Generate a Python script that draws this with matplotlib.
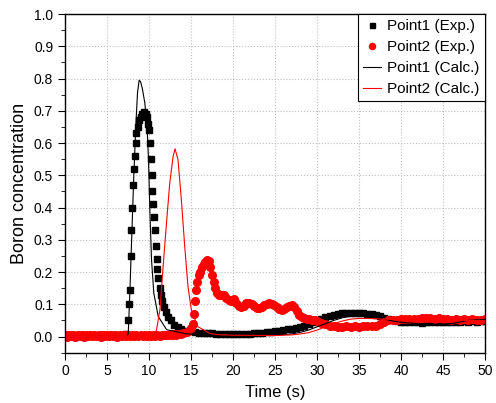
import matplotlib.pyplot as plt
from matplotlib.ticker import MultipleLocator

plt.rcParams['font.family'] = ['Liberation Sans', 'DejaVu Sans']

# Point1 measured (black squares)
p1_exp_t = [0, 0.5, 1, 1.5, 2, 2.5, 3, 3.5, 4, 4.5, 5, 5.5, 6, 6.5, 7, 7.3,
            7.5, 7.6, 7.7, 7.8, 7.85, 7.95, 8.05, 8.2, 8.3, 8.4, 8.5, 8.65, 8.8,
            9.0, 9.2, 9.4, 9.6, 9.8, 9.9, 10.0, 10.1, 10.2, 10.3, 10.4, 10.5,
            10.6, 10.7, 10.8, 10.9, 11.0, 11.1, 11.25, 11.4, 11.6, 11.8, 12.0,
            12.3, 12.6, 13.0, 13.4, 13.8, 14.3, 14.8, 15.5, 16, 16.5, 17, 17.5,
            18, 18.5, 19, 19.5, 20, 20.5, 21, 21.5, 22, 22.5, 23, 23.5, 24, 24.5,
            25, 25.5, 26, 26.5, 27, 27.5, 28, 28.5, 29, 29.5, 30, 30.5, 31, 31.5,
            32, 32.5, 33, 33.5, 34, 34.5, 35, 35.5, 36, 36.5, 37, 37.5, 38, 38.5,
            39, 39.5, 40, 40.5, 41, 41.5, 42, 42.5, 43, 43.5, 44, 44.5, 45, 45.5,
            46, 46.5, 47, 47.5, 48, 48.5, 49, 49.5, 50]
p1_exp_c = [0.005, 0.006, 0.005, 0.006, 0.005, 0.006, 0.005, 0.006, 0.005, 0.006,
            0.005, 0.006, 0.005, 0.006, 0.006, 0.008,
            0.05, 0.10, 0.145, 0.25, 0.33, 0.40, 0.47, 0.52, 0.56, 0.60, 0.63,
            0.65, 0.67, 0.68, 0.69, 0.695, 0.69, 0.68, 0.66, 0.64, 0.60, 0.55,
            0.50, 0.45, 0.41, 0.37, 0.33, 0.28, 0.24, 0.21, 0.18, 0.15, 0.13,
            0.11, 0.09, 0.075, 0.06, 0.05, 0.035, 0.028, 0.022, 0.018, 0.016,
            0.013, 0.012, 0.011, 0.01, 0.01, 0.009, 0.009, 0.008, 0.008, 0.008,
            0.008, 0.008, 0.009, 0.009, 0.01, 0.01, 0.012, 0.013, 0.015, 0.016,
            0.018, 0.02, 0.022, 0.024, 0.027, 0.03, 0.034, 0.04, 0.045, 0.05,
            0.055, 0.06, 0.065, 0.068, 0.071, 0.072, 0.073, 0.072, 0.073, 0.072,
            0.072, 0.071, 0.07, 0.066, 0.063, 0.058, 0.054, 0.051, 0.048, 0.046,
            0.045, 0.045, 0.044, 0.044, 0.043, 0.044, 0.045, 0.044, 0.045, 0.046,
            0.045, 0.046, 0.045, 0.046, 0.047, 0.046, 0.047, 0.046, 0.047, 0.047]

# Point2 measured (red circles)
p2_exp_t = [0, 0.25, 0.5, 0.75, 1, 1.25, 1.5, 1.75, 2, 2.25, 2.5, 2.75, 3, 3.25,
            3.5, 3.75, 4, 4.25, 4.5, 4.75, 5, 5.25, 5.5, 5.75, 6, 6.25, 6.5,
            6.75, 7, 7.25, 7.5, 7.75, 8, 8.25, 8.5, 8.75, 9, 9.25, 9.5, 9.75, 10,
            10.25, 10.5, 10.75, 11, 11.25, 11.5, 11.75, 12, 12.25, 12.5, 12.75,
            13, 13.25, 13.5, 13.75, 14.0, 14.5, 15.0, 15.2, 15.35, 15.5, 15.6,
            15.75, 15.9, 16.1, 16.3, 16.5, 16.7, 16.9, 17.1, 17.3, 17.5, 17.7,
            17.9, 18.1, 18.3, 18.6, 18.9, 19.2, 19.5, 19.8, 20.1, 20.4, 20.7,
            21.0, 21.3, 21.6, 21.9, 22.2, 22.5, 22.8, 23.1, 23.4, 23.7, 24.0,
            24.3, 24.6, 24.9, 25.2, 25.5, 25.8, 26.1, 26.4, 26.7, 27.0, 27.3,
            27.6, 27.9, 28.2, 28.5, 28.8, 29.1, 29.4, 29.7, 30.0, 30.5, 31.0,
            31.5, 32, 32.5, 33, 33.5, 34, 34.5, 35, 35.5, 36, 36.5, 37, 37.5, 38,
            38.5, 39, 39.5, 40, 40.5, 41, 41.5, 42, 42.5, 43, 43.5, 44, 44.5, 45,
            45.5, 46, 46.5, 47, 47.5, 48, 48.5, 49, 49.5, 50]
p2_exp_c = [0.004, 0.0, 0.006, 0.002, 0.005, 0.0, 0.006, 0.003, 0.004, 0.0,
            0.006, 0.002, 0.005, 0.001, 0.006, 0.003, 0.004, 0.0, 0.006, 0.002,
            0.005, 0.001, 0.006, 0.003, 0.004, 0.0, 0.006, 0.002, 0.005, 0.001,
            0.006, 0.003, 0.004, 0.001, 0.006, 0.002, 0.005, 0.002, 0.006, 0.003,
            0.005, 0.002, 0.006, 0.003, 0.005, 0.003, 0.006, 0.004, 0.006, 0.004,
            0.007, 0.005, 0.007, 0.006, 0.008, 0.008, 0.01, 0.015, 0.025, 0.04,
            0.07, 0.11, 0.145, 0.17, 0.19, 0.20, 0.215, 0.225, 0.23, 0.238, 0.235,
            0.215, 0.19, 0.17, 0.15, 0.135, 0.13, 0.13, 0.128, 0.12, 0.112, 0.11,
            0.115, 0.105, 0.095, 0.09, 0.095, 0.103, 0.105, 0.10, 0.095, 0.088,
            0.088, 0.092, 0.098, 0.10, 0.103, 0.102, 0.098, 0.092, 0.085, 0.082,
            0.085, 0.09, 0.095, 0.098, 0.092, 0.08, 0.068, 0.06, 0.057, 0.055,
            0.053, 0.052, 0.05, 0.047, 0.042, 0.038, 0.034, 0.033, 0.031, 0.031,
            0.032, 0.031, 0.032, 0.031, 0.033, 0.032, 0.033, 0.034, 0.038, 0.045,
            0.05, 0.052, 0.052, 0.053, 0.053, 0.054, 0.055, 0.054, 0.056, 0.057,
            0.056, 0.055, 0.056, 0.054, 0.053, 0.052, 0.053, 0.052, 0.053, 0.052,
            0.053, 0.052, 0.052, 0.053]

# Point1 calculated (black line)
p1_calc_t = [0, 7.4, 7.53, 7.72, 7.92, 8.19, 8.43, 8.63, 8.83, 9.0, 9.2, 9.5,
             9.77, 9.94, 10.1, 10.3, 10.57, 11.1, 12.1, 14.5, 17, 20, 25, 27,
             28, 29, 30, 31, 32, 33, 34, 35, 36, 37, 38, 39, 40, 42, 44, 46, 47,
             48, 49, 50]
p1_calc_c = [0.0, 0.0, 0.01, 0.135, 0.29, 0.497, 0.652, 0.756, 0.795, 0.79,
             0.77, 0.725, 0.652, 0.549, 0.393, 0.238, 0.135, 0.062, 0.021, 0.008,
             0.006, 0.004, 0.004, 0.008, 0.013, 0.02, 0.03, 0.04, 0.05, 0.058,
             0.063, 0.065, 0.064, 0.06, 0.054, 0.048, 0.044, 0.04, 0.038, 0.04,
             0.045, 0.05, 0.052, 0.053]

# Point2 calculated (red line)
p2_calc_t = [0, 10.6, 10.9, 11.3, 11.68, 12.08, 12.47, 12.87, 13.1, 13.45,
             13.85, 14.25, 14.64, 15.04, 15.8, 17.2, 18, 20, 25, 27, 28, 29, 30,
             31, 32, 33, 34, 35, 36, 38, 40, 45, 50]
p2_calc_c = [0.0, 0.0, 0.021, 0.083, 0.217, 0.352, 0.476, 0.559, 0.582, 0.549,
             0.425, 0.28, 0.155, 0.083, 0.031, 0.01, 0.006, 0.004, 0.003, 0.005,
             0.008, 0.012, 0.02, 0.03, 0.04, 0.048, 0.054, 0.056, 0.056, 0.054,
             0.052, 0.05, 0.05]

fig = plt.figure(figsize=(4.96, 4.03), dpi=100)
ax = fig.add_axes([0.131, 0.125, 0.847, 0.84])

ax.plot(p1_exp_t, p1_exp_c, 's', color='black', ms=4.5, label='Point1 (Exp.)')
ax.plot(p2_exp_t, p2_exp_c, 'o', color='red', ms=5.5, label='Point2 (Exp.)')
ax.plot(p1_calc_t, p1_calc_c, '-', color='black', lw=0.8, label='Point1 (Calc.)')
ax.plot(p2_calc_t, p2_calc_c, '-', color='red', lw=0.8, label='Point2 (Calc.)')

ax.set_xlim(0, 50)
ax.set_ylim(-0.05, 1.0)
ax.xaxis.set_major_locator(MultipleLocator(5))
ax.xaxis.set_minor_locator(MultipleLocator(2.5))
ax.yaxis.set_major_locator(MultipleLocator(0.1))
ax.yaxis.set_minor_locator(MultipleLocator(0.05))
ax.set_yticks([0.0, 0.1, 0.2, 0.3, 0.4, 0.5, 0.6, 0.7, 0.8, 0.9, 1.0])
ax.tick_params(which='both', direction='out', labelsize=10)
ax.tick_params(which='major', length=5)
ax.tick_params(which='minor', length=3)
ax.grid(True, which='major', ls=':', color='#c0c0c0', lw=0.8)
for s in ax.spines.values():
    s.set_linewidth(1.0)

ax.set_xlabel('Time (s)', fontsize=12, labelpad=5)
ax.set_ylabel('Boron concentration', fontsize=13, labelpad=4)

leg = ax.legend(loc='upper right', fontsize=11, frameon=True, fancybox=False,
                edgecolor='black', framealpha=1, borderaxespad=0,
                handlelength=1.2, handletextpad=0.4, borderpad=0.35,
                labelspacing=0.45, markerscale=0.8)
leg.get_frame().set_linewidth(0.8)

fig.savefig('out.png', dpi=100)
